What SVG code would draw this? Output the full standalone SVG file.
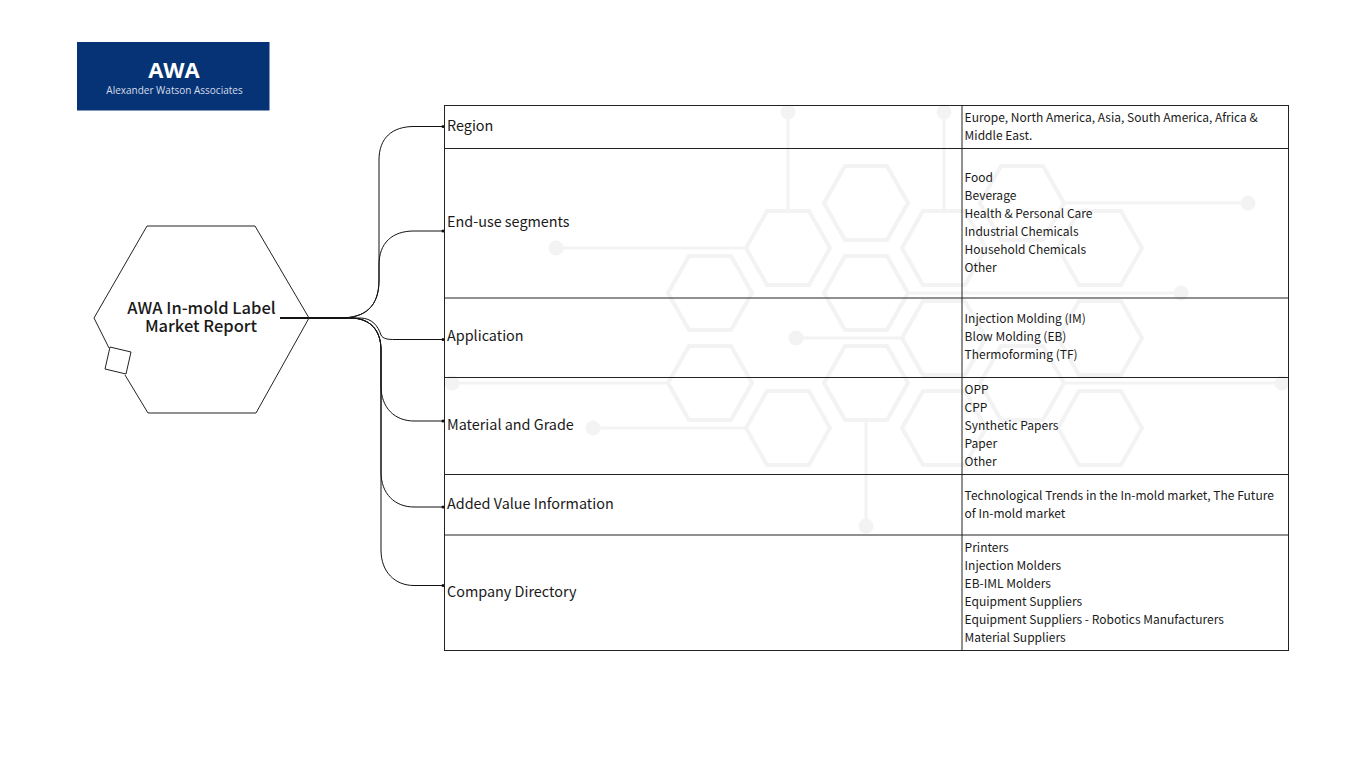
<svg xmlns="http://www.w3.org/2000/svg" width="1366" height="768" viewBox="0 0 1366 768">
<style>
text{font-family:"Noto Sans CJK SC","Source Sans Pro","Noto Sans",sans-serif;fill:#1a1a1a}
.h{fill:none;stroke:#f3f3f3;stroke-width:4}
.b{fill:none;stroke:#f3f3f3;stroke-width:3}
.d{fill:#f3f3f3}
.c{fill:none;stroke:#111;stroke-width:1;marker-end:url(#dot)}
.t{fill:none;stroke:#222;stroke-width:1}
.l{font-size:14.400px}
.s{font-size:12px}
</style>
<defs>
<marker id="dot" markerUnits="userSpaceOnUse" markerWidth="6" markerHeight="6" refX="4" refY="3" orient="auto"><circle cx="3" cy="3" r="1.500" fill="#111"/></marker>
<polygon id="hx" points="-42,0 -21,-37 21,-37 42,0 21,37 -21,37"/>
</defs>
<rect width="1366" height="768" fill="#fff"/>
<g id="background">
<use href="#hx" class="h" x="866" y="203"/><use href="#hx" class="h" x="1022" y="203"/>
<use href="#hx" class="h" x="788" y="248"/><use href="#hx" class="h" x="944" y="248"/><use href="#hx" class="h" x="1100" y="248"/>
<use href="#hx" class="h" x="710" y="293"/><use href="#hx" class="h" x="866" y="293"/>
<use href="#hx" class="h" x="944" y="338"/><use href="#hx" class="h" x="1100" y="338"/>
<use href="#hx" class="h" x="710" y="383"/><use href="#hx" class="h" x="866" y="383"/><use href="#hx" class="h" x="1022" y="383"/>
<use href="#hx" class="h" x="788" y="428"/><use href="#hx" class="h" x="944" y="428"/><use href="#hx" class="h" x="1100" y="428"/>
<path class="b" d="M788 112V209M944 112V209M556 248H746M1065 203H1248M909 293H1181M796 338H902M452 383H668M1065 383H1282M593 428H746M866 422V526"/>
<circle class="d" cx="788" cy="112" r="7.500"/><circle class="d" cx="944" cy="112" r="7.500"/><circle class="d" cx="556" cy="248" r="7.500"/><circle class="d" cx="1248" cy="203" r="7.500"/><circle class="d" cx="1181" cy="293" r="7.500"/><circle class="d" cx="796" cy="338" r="7.500"/><circle class="d" cx="452" cy="383" r="7.500"/><circle class="d" cx="1282" cy="383" r="7.500"/><circle class="d" cx="593" cy="428" r="7.500"/><circle class="d" cx="866" cy="526" r="7.500"/>
</g>
<g id="logo">
<rect x="77" y="42" width="192.500" height="68.500" fill="#063375"/>
<text x="174" y="78" text-anchor="middle" font-size="22" font-weight="700" style="font-family:'Open Sans',sans-serif;fill:#fff">AWA</text>
<text x="174.500" y="94" text-anchor="middle" font-size="10" style="font-family:'Open Sans',sans-serif;fill:#d5dcea">Alexander Watson Associates</text>
</g>
<g id="connectors">
<path class="c" d="M280 318H340C366 318 379 306 379 280V160C379 138 392 126.500 414 126.500H444"/>
<path class="c" d="M280 318H340C366 318 379 306 379 280V265C379 243 392 231 414 231H444"/>
<path class="c" d="M280 318H360C372 318 378 326 381 335C383 339 388 339.500 395 339.500H444"/>
<path class="c" d="M280 318H350C370 318 381 330 381 350V386C381 408 395 421 414 421H444"/>
<path class="c" d="M280 318H350C370 318 381 330 381 350V472C381 494 395 507 414 507H444"/>
<path class="c" d="M280 318H350C370 318 381 330 381 350V550C381 572 395 585.500 414 585.500H444"/>
</g>
<g id="hub">
<path class="t" d="M147 226H255L309 318L256 413H148L125 375M109 348L94 318L147 226"/>
<polygon class="t" points="110,347 131,352 126,374 105,369" style="fill:#fff"/>
<text text-anchor="middle" font-size="16.500" font-weight="500"><tspan x="201.500" y="314">AWA In-mold Label</tspan><tspan x="201" y="332">Market Report</tspan></text>
</g>
<g id="table">
<rect class="t" x="444.500" y="105.500" width="844" height="545"/>
<path class="t" d="M962 105V650M444 148.500H1288M444 298H1288M444 377.500H1288M444 474.500H1288M444 535H1288"/>
</g>
<g id="row-region"><text class="l" x="447" y="131">Region</text><text class="s" x="964.600" y="122">Europe, North America, Asia, South America, Africa &amp;</text><text class="s" x="964.600" y="140">Middle East.</text></g>
<g id="row-end-use"><text class="l" x="447" y="227">End-use segments</text><text class="s" x="964.600" y="182">Food</text><text class="s" x="964.600" y="200">Beverage</text><text class="s" x="964.600" y="218">Health &amp; Personal Care</text><text class="s" x="964.600" y="236">Industrial Chemicals</text><text class="s" x="964.600" y="254">Household Chemicals</text><text class="s" x="964.600" y="272">Other</text></g>
<g id="row-application"><text class="l" x="447" y="341">Application</text><text class="s" x="964.600" y="323">Injection Molding (IM)</text><text class="s" x="964.600" y="341">Blow Molding (EB)</text><text class="s" x="964.600" y="359">Thermoforming (TF)</text></g>
<g id="row-material"><text class="l" x="447" y="430">Material and Grade</text><text class="s" x="964.600" y="394">OPP</text><text class="s" x="964.600" y="412">CPP</text><text class="s" x="964.600" y="430">Synthetic Papers</text><text class="s" x="964.600" y="448">Paper</text><text class="s" x="964.600" y="466">Other</text></g>
<g id="row-added"><text class="l" x="447" y="509">Added Value Information</text><text class="s" x="964.600" y="500">Technological Trends in the In-mold market, The Future</text><text class="s" x="964.600" y="518">of In-mold market</text></g>
<g id="row-company"><text class="l" x="447" y="597">Company Directory</text><text class="s" x="964.600" y="552">Printers</text><text class="s" x="964.600" y="570">Injection Molders</text><text class="s" x="964.600" y="588">EB-IML Molders</text><text class="s" x="964.600" y="606">Equipment Suppliers</text><text class="s" x="964.600" y="624">Equipment Suppliers - Robotics Manufacturers</text><text class="s" x="964.600" y="642">Material Suppliers</text></g>
</svg>
